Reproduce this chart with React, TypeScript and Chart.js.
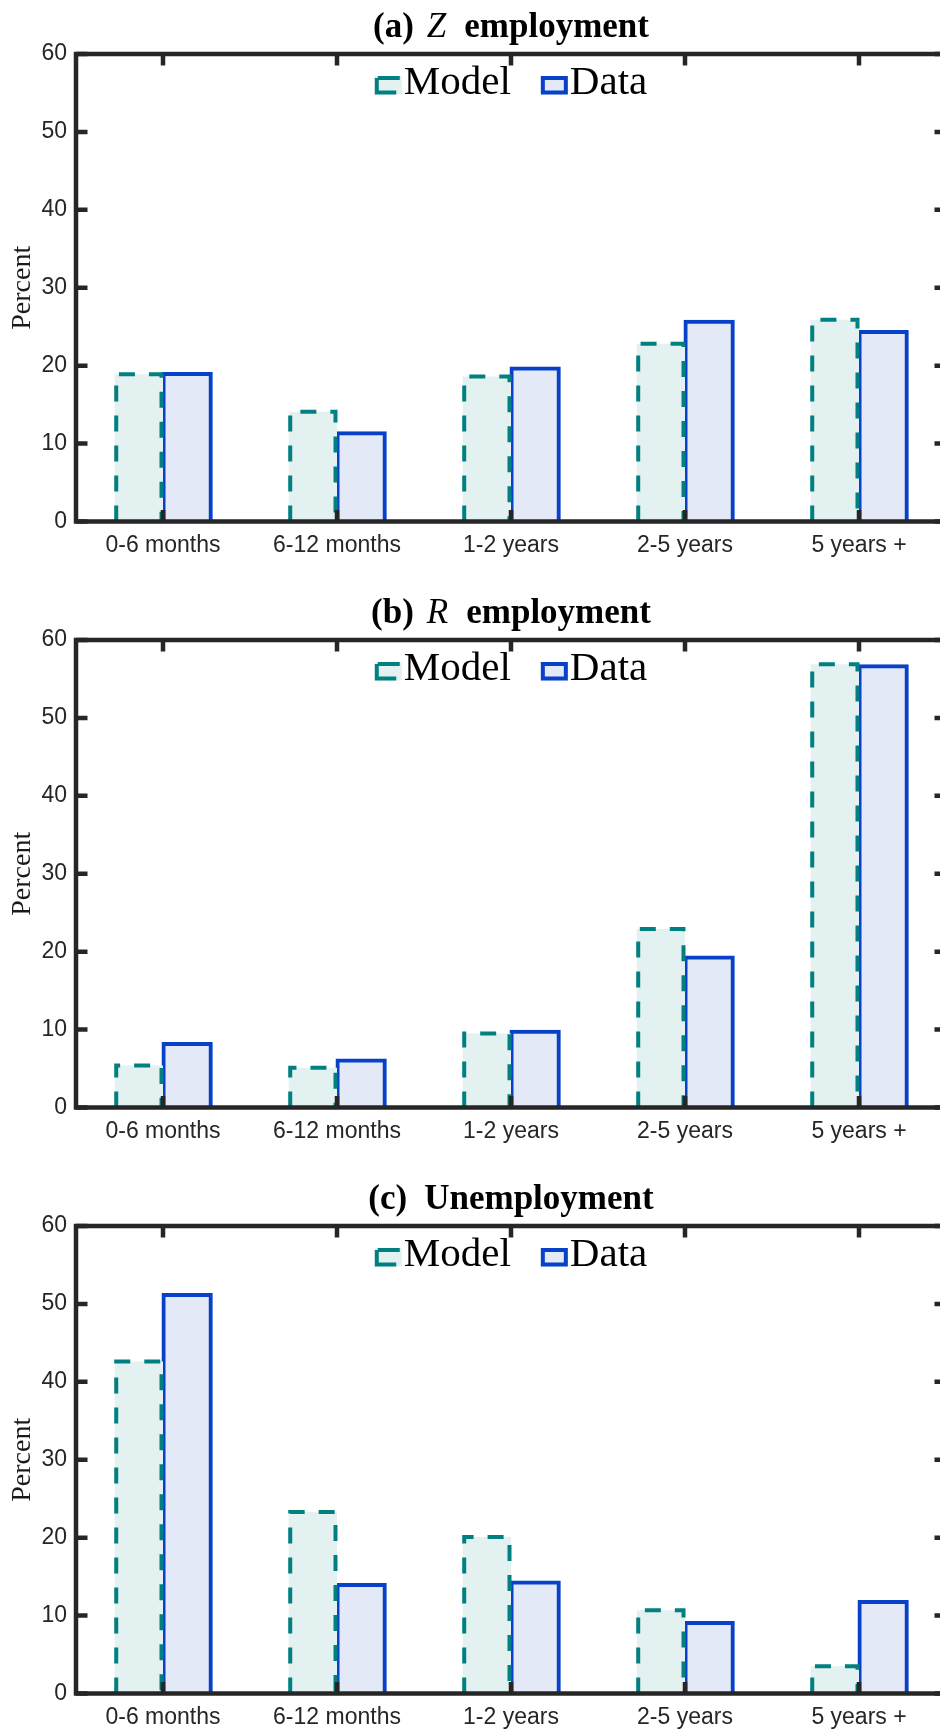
import React, { useEffect, useRef } from "react";
import { Chart, registerables } from "chart.js";

Chart.register(...registerables);

// ---------- data ----------
const categories = ["0-6 months", "6-12 months", "1-2 years", "2-5 years", "5 years +"];
const seriesLabels = ["Model", "Data"];
const yTickValues = [0, 10, 20, 30, 40, 50, 60];
const yAxisLabel = "Percent";

const zModel = [18.9, 14.1, 18.6, 22.8, 25.9];
const zData = [19.0, 11.4, 19.7, 25.7, 24.4];
const rModel = [5.4, 5.1, 9.5, 22.9, 56.9];
const rData = [8.2, 6.1, 9.8, 19.3, 56.7];
const uModel = [42.6, 23.3, 20.1, 10.7, 3.5];
const uData = [51.2, 14.0, 14.3, 9.1, 11.8];

type Seg = { text: string; italic?: boolean; gap?: number };
const titleA: Seg[] = [{ text: "(a)" }, { text: "Z", italic: true, gap: 13 }, { text: "employment", gap: 18 }];
const titleB: Seg[] = [{ text: "(b)" }, { text: "R", italic: true, gap: 13 }, { text: "employment", gap: 18 }];
const titleC: Seg[] = [{ text: "(c)" }, { text: "Unemployment", gap: 17 }];

// ---------- style ----------
const AXIS_COLOR = "#262626";
const MODEL_EDGE = "#008080";
const MODEL_FILL = "#e3f1f0";
const DATA_EDGE = "#0641c8";
const DATA_FILL = "#e3e9f7";
const CANVAS_W = 950;
const PANEL_PITCH = 586;
const AREA_TOP = 54;
const AREA_BOTTOM = 521.5;
const SERIF = "'Liberation Serif', 'Times New Roman', serif";
const SANS = "'Liberation Sans', Arial, sans-serif";

const decoPlugin = {
  id: "panelDeco",
  afterDatasetDraw(chart: any, args: any) {
    const ds = chart.data.datasets[args.index];
    if (!ds.borderDash) return;
    const ctx = chart.ctx;
    ctx.save();
    ctx.strokeStyle = ds.borderColor;
    ctx.lineWidth = 4;
    ctx.setLineDash(ds.borderDash);
    ctx.lineCap = "butt";
    args.meta.data.forEach((el: any) => {
      const p = el.getProps(["x", "y", "base", "width"], true);
      const l = p.x - p.width / 2 + 1.5;
      const r = p.x + p.width / 2 - 1.5;
      ctx.beginPath();
      ctx.moveTo(l, p.base);
      ctx.lineTo(l, p.y);
      ctx.lineTo(r, p.y);
      ctx.lineTo(r, p.base);
      ctx.stroke();
    });
    ctx.restore();
  },
  afterDatasetsDraw(chart: any) {
    const { ctx, chartArea: ca, scales } = chart;
    const xs = scales.x;
    const ys = scales.y;
    ctx.save();
    ctx.strokeStyle = AXIS_COLOR;
    ctx.setLineDash([]);
    ctx.lineWidth = 4.5;
    ctx.lineCap = "butt";
    const tl = 11.5;
    xs.ticks.forEach((_t: any, i: number) => {
      const px = xs.getPixelForTick(i);
      ctx.beginPath();
      ctx.moveTo(px, ca.bottom);
      ctx.lineTo(px, ca.bottom - tl);
      ctx.moveTo(px, ca.top);
      ctx.lineTo(px, ca.top + tl);
      ctx.stroke();
    });
    ys.ticks.forEach((t: any) => {
      const py = ys.getPixelForValue(t.value);
      ctx.beginPath();
      ctx.moveTo(ca.left, py);
      ctx.lineTo(ca.left + tl, py);
      ctx.moveTo(ca.right, py);
      ctx.lineTo(ca.right - tl, py);
      ctx.stroke();
    });
    ctx.lineJoin = "miter";
    ctx.strokeRect(ca.left, ca.top, ca.right - ca.left, ca.bottom - ca.top);
    ctx.restore();
  },
  afterDraw(chart: any, _args: any, opts: any) {
    const { ctx, chartArea: ca } = chart;
    const cx = (ca.left + ca.right) / 2;
    ctx.save();
    // title
    const segs: Seg[] = opts.segments || [];
    const fontFor = (s: Seg) => (s.italic ? `italic 35px ${SERIF}` : `bold 35px ${SERIF}`);
    let total = 0;
    const widths = segs.map((s) => {
      ctx.font = fontFor(s);
      const w = ctx.measureText(s.text).width;
      total += w + (s.gap || 0);
      return w;
    });
    let x = cx - total / 2;
    ctx.fillStyle = "#000";
    ctx.textBaseline = "alphabetic";
    ctx.textAlign = "left";
    segs.forEach((s, i) => {
      x += s.gap || 0;
      ctx.font = fontFor(s);
      ctx.fillText(s.text, x, ca.top - 17);
      x += widths[i];
    });
    // legend
    ctx.font = `41px ${SERIF}`;
    const iconW = 27;
    const iconH = 18.5;
    const iconGap = 2;
    const itemGap = 30;
    const items = chart.data.datasets.map((ds: any) => ({
      label: ds.label,
      fill: ds.backgroundColor,
      edge: ds.borderColor,
      dashed: !!ds.borderDash,
      w: ctx.measureText(ds.label).width,
    }));
    let lt = 0;
    items.forEach((it: any, i: number) => {
      lt += iconW + iconGap + it.w + (i > 0 ? itemGap : 0);
    });
    let lx = cx - lt / 2;
    const iconTop = ca.top + 22;
    const base = ca.top + 40;
    items.forEach((it: any, i: number) => {
      if (i > 0) lx += itemGap;
      ctx.fillStyle = it.fill;
      ctx.fillRect(lx, iconTop, iconW, iconH);
      ctx.strokeStyle = it.edge;
      ctx.lineWidth = 4;
      if (it.dashed) {
        ctx.setLineDash([34, 18, 22, 16]);
        ctx.beginPath();
        ctx.moveTo(lx + 2, iconTop + 2);
        ctx.lineTo(lx + 2, iconTop + iconH - 2);
        ctx.lineTo(lx + iconW - 2, iconTop + iconH - 2);
        ctx.lineTo(lx + iconW - 2, iconTop + 2);
        ctx.closePath();
        ctx.stroke();
        ctx.setLineDash([]);
      } else {
        ctx.strokeRect(lx + 2, iconTop + 2, iconW - 4, iconH - 4);
      }
      lx += iconW + iconGap;
      ctx.fillStyle = "#000";
      ctx.fillText(it.label, lx, base);
      lx += it.w;
    });
    ctx.restore();
  },
};

type PanelProps = { model: number[]; data: number[]; title: Seg[]; top: number; height: number };

function Panel({ model, data, title, top, height }: PanelProps) {
  const ref = useRef<HTMLCanvasElement>(null);
  useEffect(() => {
    if (!ref.current) return;
    const xHeight = height - AREA_BOTTOM;
    const chart = new Chart(ref.current, {
      type: "bar",
      data: {
        labels: categories,
        datasets: [
          {
            label: seriesLabels[0],
            data: model,
            backgroundColor: MODEL_FILL,
            borderColor: MODEL_EDGE,
            borderWidth: 0,
            borderDash: [16, 14],
            categoryPercentage: 0.555,
            barPercentage: 1.0,
          } as any,
          {
            label: seriesLabels[1],
            data: data,
            backgroundColor: DATA_FILL,
            borderColor: DATA_EDGE,
            borderWidth: 4,
            inflateAmount: 1.5,
            categoryPercentage: 0.555,
            barPercentage: 1.0,
          } as any,
        ],
      },
      options: {
        responsive: false,
        animation: false,
        devicePixelRatio: 1,
        layout: { padding: { top: AREA_TOP, left: 0, right: 4, bottom: 0 } },
        plugins: {
          legend: { display: false },
          tooltip: { enabled: false },
          title: { display: false },
          panelDeco: { segments: title },
        } as any,
        scales: {
          x: {
            type: "category",
            offset: true,
            grid: { display: false, drawTicks: false },
            border: { display: false },
            ticks: {
              font: { family: SANS, size: 23 },
              color: AXIS_COLOR,
              padding: 10,
              maxRotation: 0,
              autoSkip: false,
            },
            afterFit: (s: any) => {
              s.height = xHeight;
            },
          },
          y: {
            min: 0,
            max: 60,
            afterBuildTicks: (s: any) => {
              s.ticks = yTickValues.map((v) => ({ value: v }));
            },
            grid: { display: false, drawTicks: false },
            border: { display: false },
            ticks: {
              font: { family: SANS, size: 23 },
              color: AXIS_COLOR,
              padding: 9,
            },
            title: {
              display: true,
              text: yAxisLabel,
              font: { family: SERIF, size: 28 },
              color: "#1a1a1a",
              padding: { top: 6, bottom: 0 },
            },
            afterFit: (s: any) => {
              s.width = 76;
            },
          },
        },
      },
      plugins: [decoPlugin],
    });
    return () => chart.destroy();
  }, []);
  return (
    <div style={{ position: "absolute", left: 0, top, width: CANVAS_W, height }}>
      <canvas ref={ref} width={CANVAS_W} height={height} style={{ width: CANVAS_W, height, display: "block" }} />
    </div>
  );
}

export default function App() {
  return (
    <div
      style={{
        position: "absolute",
        left: 0,
        top: 0,
        width: 940,
        height: 1730,
        overflow: "hidden",
        background: "#ffffff",
      }}
    >
      <Panel model={zModel} data={zData} title={titleA} top={0} height={PANEL_PITCH} />
      <Panel model={rModel} data={rData} title={titleB} top={PANEL_PITCH} height={PANEL_PITCH} />
      <Panel model={uModel} data={uData} title={titleC} top={PANEL_PITCH * 2} height={1730 - PANEL_PITCH * 2} />
    </div>
  );
}
